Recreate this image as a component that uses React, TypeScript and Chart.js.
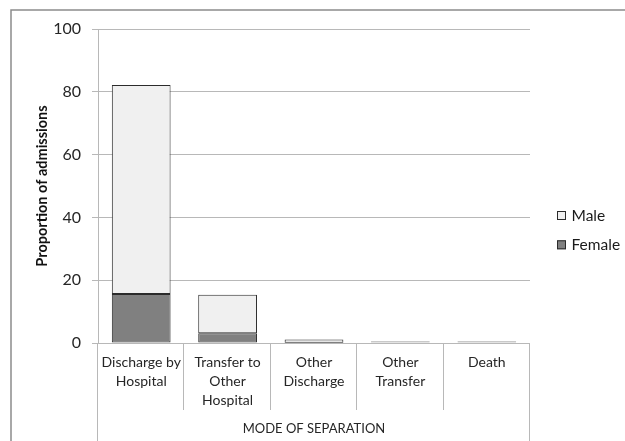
import React, { useEffect, useRef } from "react";
import { Chart, registerables } from "chart.js";

Chart.register(...registerables);

const categories: string[][] = [
  ["Discharge by", "Hospital"],
  ["Transfer to", "Other", "Hospital"],
  ["Other", "Discharge"],
  ["Other", "Transfer"],
  ["Death"],
];
const femaleValues: number[] = [15.6, 3.1, 0.1, 0.25, 0.25];
const maleValues: number[] = [66.6, 12.3, 1.0, 0.25, 0.25];
const yTicks: number[] = [0, 20, 40, 60, 80, 100];
const seriesNames = { male: "Male", female: "Female" };
const yTitle = "Proportion of admissions";
const xTitle = "MODE OF SEPARATION";

const FONT = "Lato, 'Liberation Sans', sans-serif";
const GRID = "#b8b8b8";
const TEXT = "#262626";

const framePlugin = {
  id: "frame",
  beforeDraw(chart: any) {
    const { ctx } = chart;
    ctx.save();
    ctx.strokeStyle = "#8c8c8c";
    ctx.lineWidth = 1.5;
    ctx.beginPath();
    ctx.moveTo(11, chart.height + 5);
    ctx.lineTo(11, 10);
    ctx.lineTo(chart.width + 5, 10);
    ctx.stroke();
    ctx.restore();
  },
  afterDraw(chart: any) {
    const { ctx, chartArea } = chart;
    const x = chart.scales.x;
    const n = x.ticks.length;
    ctx.save();
    ctx.strokeStyle = GRID;
    ctx.lineWidth = 1;
    for (let i = 0; i <= n; i++) {
      const px = Math.round(x.left + (i * x.width) / n) - 0.5;
      const edge = i === 0 || i === n;
      ctx.beginPath();
      ctx.moveTo(px, chartArea.bottom);
      ctx.lineTo(px, edge ? chart.height : chartArea.bottom + 67);
      ctx.stroke();
    }
    // legend (reverse order like the reference)
    const items = [...chart.data.datasets].reverse();
    const lx = 557;
    const ly0 = 215.5;
    const gap = 29.3;
    ctx.font = `15.5px ${FONT}`;
    ctx.textBaseline = "middle";
    ctx.textAlign = "left";
    items.forEach((ds: any, k: number) => {
      const cy = ly0 + k * gap;
      ctx.fillStyle = ds.backgroundColor;
      ctx.fillRect(lx, cy - 4.5, 9, 9);
      ctx.strokeStyle = "#2b2b2b";
      ctx.lineWidth = 1;
      ctx.strokeRect(lx + 0.5, cy - 4, 8, 8);
      ctx.fillStyle = "#1a1a1a";
      ctx.fillText(ds.label, lx + 14.5, cy);
    });
    ctx.restore();
  },
};

export default function App() {
  const ref = useRef<HTMLCanvasElement>(null);
  useEffect(() => {
    if (!ref.current) return;
    const chart = new Chart(ref.current, {
      type: "bar",
      data: {
        labels: categories,
        datasets: [
          {
            label: seriesNames.female,
            data: femaleValues,
            backgroundColor: "#808080",
            borderColor: "#2b2b2b",
            borderWidth: 1,
            borderSkipped: false,
            barPercentage: 0.68,
            categoryPercentage: 1,
          },
          {
            label: seriesNames.male,
            data: maleValues,
            backgroundColor: "#f0f0f0",
            borderColor: "#2b2b2b",
            borderWidth: 1,
            borderSkipped: false,
            barPercentage: 0.68,
            categoryPercentage: 1,
          },
        ],
      },
      options: {
        responsive: false,
        animation: false,
        events: [],
        layout: { padding: { top: 29, right: 95, left: 0, bottom: 0 } },
        plugins: { legend: { display: false }, tooltip: { enabled: false } },
        scales: {
          x: {
            stacked: true,
            grid: { display: false, drawTicks: false },
            border: { display: false },
            ticks: {
              color: TEXT,
              font: { family: FONT, size: 14, lineHeight: 1.357 },
              padding: 10,
              maxRotation: 0,
              autoSkip: false,
            },
            title: {
              display: true,
              text: xTitle,
              color: TEXT,
              font: { family: FONT, size: 13, lineHeight: 1.2 },
              padding: { top: 0, bottom: 4.2 },
            },
            afterFit(scale: any) {
              scale.height = 98;
            },
          },
          y: {
            stacked: true,
            min: 0,
            max: 100,
            afterBuildTicks(scale: any) {
              scale.ticks = yTicks.map((v) => ({ value: v }));
            },
            grid: { color: GRID, tickLength: 6, lineWidth: 1 },
            border: { display: true, color: GRID },
            ticks: {
              color: TEXT,
              font: { family: FONT, size: 16 },
              padding: 11,
            },
            title: {
              display: true,
              text: yTitle,
              color: "#111111",
              font: { family: FONT, size: 14.5, weight: "bold", lineHeight: 1.2 },
              padding: { top: 34, bottom: 0 },
            },
            afterFit(scale: any) {
              scale.width = 98;
            },
          },
        },
      },
      plugins: [framePlugin],
    });
    return () => chart.destroy();
  }, []);
  return (
    <div style={{ position: "absolute", left: 0, top: 0, width: 625, height: 441 }}>
      <canvas ref={ref} width={625} height={441} style={{ display: "block" }} />
    </div>
  );
}
